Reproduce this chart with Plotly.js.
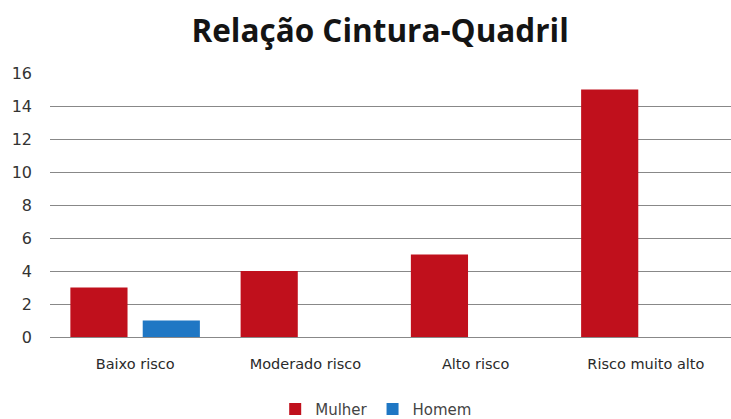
<!DOCTYPE html>
<html><head><meta charset="utf-8">
<script src="https://cdn.plot.ly/plotly-3.0.1.min.js"></script>
<style>html,body{margin:0;padding:0;background:#fff}#c{width:731px;height:419px}</style>
</head><body><div id="c"></div>
<script>
const categories = ["Baixo risco", "Moderado risco", "Alto risco", "Risco muito alto"];
const mulher = [3, 4, 5, 15];
const homem = [1, 0, 0, 0];
const yTicks = [0, 2, 4, 6, 8, 10, 12, 14, 16];

const data = [
  {type: "bar", name: "Mulher", x: categories, y: mulher, marker: {color: "#C0101C"}},
  {type: "bar", name: "Homem", x: categories, y: homem, marker: {color: "#1F77C4"}}
];
const layout = {
  width: 731, height: 419,
  margin: {l: 50, r: 0, t: 73, b: 82},
  paper_bgcolor: "#fff", plot_bgcolor: "#fff",
  font: {family: "DejaVu Sans, sans-serif", color: "#333", size: 14},
  title: {text: "<b>Relação Cintura-Quadril</b>", x: 0.52, xanchor: "center", y: 0.925, yanchor: "middle",
          font: {size: 31.5, color: "#141414", family: "Open Sans, sans-serif"}},
  barmode: "group", bargap: 0.15, bargroupgap: 0.21,
  xaxis: {showgrid: false, showline: true, linecolor: "#888", linewidth: 1, ticks: "", ticklabelstandoff: 14,
          automargin: false, tickfont: {size: 14.5, color: "#2a2a2a"}},
  yaxis: {range: [0, 16], tickvals: yTicks, showgrid: true, gridcolor: "#888", gridwidth: 1, zeroline: false,
          automargin: false, showline: false, ticks: "", ticklabelstandoff: 17, tickfont: {size: 16, color: "#333"}},
  showlegend: true,
  legend: {orientation: "h", x: 0.479, xanchor: "center", yref: "container", y: 0.023, yanchor: "middle", itemwidth: 30,
           font: {size: 15, color: "#444"}}
};
Plotly.newPlot("c", data, layout, {displayModeBar: false});
</script></body></html>
